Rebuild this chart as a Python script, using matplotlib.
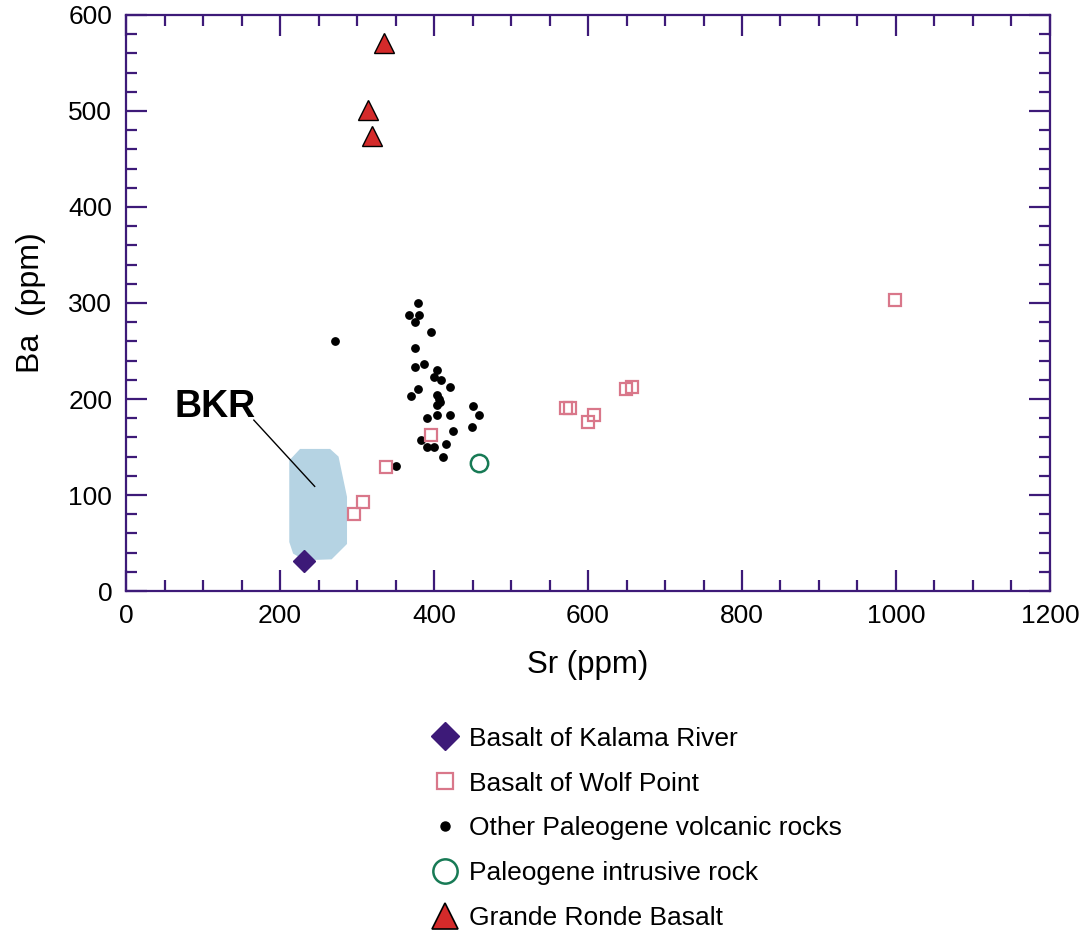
import numpy as np
from matplotlib import pyplot as plt
from matplotlib.patches import Polygon
from matplotlib.ticker import MultipleLocator
from matplotlib.lines import Line2D

plt.rcParams['font.family'] = ['Liberation Sans', 'DejaVu Sans']

# Данные: Sr и Ba (ppm)
kalama_sr = [231]
kalama_ba = [31]

wolf_sr = [296, 308, 338, 396, 571, 577, 600, 608, 649, 657, 999]
wolf_ba = [80, 93, 129, 163, 191, 191, 176, 183, 210, 213, 303]

other_sr = [271, 379, 367, 380, 375, 396, 375, 375, 387, 404, 400, 409, 421, 379,
            370, 404, 406, 404, 408, 404, 421, 391, 450, 458, 449, 425, 383, 416,
            391, 400, 412, 351]
other_ba = [260, 300, 287, 287, 280, 270, 253, 233, 236, 230, 223, 220, 213, 210,
            203, 204, 200, 194, 197, 183, 183, 180, 193, 183, 171, 167, 157, 153,
            150, 150, 140, 130]

intrusive_sr = [458]
intrusive_ba = [133]

grande_sr = [335, 314, 319]
grande_ba = [571, 501, 474]

# Поле BKR
bkr_sr = [226, 265, 276, 287, 287, 267, 232, 217, 212, 212]
bkr_ba = [148, 148, 140, 98, 49, 33, 32, 39, 51, 136]

purple = '#3d1a78'
pink = '#d9778a'
green = '#177a55'
red = '#d42a2a'

fig = plt.figure(figsize=(10.81, 9.30), dpi=100)
ax = fig.add_axes([0.1166, 0.3645, 0.8547, 0.6194])

ax.add_patch(Polygon(np.column_stack([bkr_sr, bkr_ba]), closed=True,
                     facecolor='#b5d3e3', edgecolor='none', zorder=1))

ax.plot(other_sr, other_ba, 'o', color='black', ms=5.3, zorder=3)
ax.plot(wolf_sr, wolf_ba, 's', mfc='none', mec=pink, ms=8.8, mew=1.6, zorder=4)
ax.plot(intrusive_sr, intrusive_ba, 'o', mfc='none', mec=green, ms=12.5, mew=1.8, zorder=4)
ax.plot(kalama_sr, kalama_ba, 'D', color=purple, ms=11, zorder=5)
ax.plot(grande_sr, grande_ba, '^', mfc=red, mec='black', ms=14, mew=1.0, zorder=5)

# подпись поля BKR с выноской
ax.text(168, 181, 'BKR', fontsize=27, fontweight='bold', ha='right', va='baseline')
ax.plot([166, 245], [178, 109], color='black', lw=1.0, zorder=2)

ax.set_xlim(0, 1200)
ax.set_ylim(0, 600)
ax.xaxis.set_major_locator(MultipleLocator(200))
ax.xaxis.set_minor_locator(MultipleLocator(50))
ax.yaxis.set_major_locator(MultipleLocator(100))
ax.yaxis.set_minor_locator(MultipleLocator(20))
ax.tick_params(which='both', direction='in', top=True, right=True, color=purple,
               labelsize=19, width=1.6)
ax.tick_params(which='major', length=15)
ax.tick_params(which='minor', length=8)
ax.tick_params(axis='x', which='major', pad=9)
ax.tick_params(axis='y', which='major', pad=10)
for s in ax.spines.values():
    s.set_color(purple)
    s.set_linewidth(1.6)

ax.set_xlabel('Sr (ppm)', fontsize=22.5, labelpad=16)
ax.set_ylabel('Ba  (ppm)', fontsize=23, labelpad=16)

handles = [
    Line2D([], [], ls='none', marker='D', color=purple, ms=14),
    Line2D([], [], ls='none', marker='s', mfc='none', mec=pink, ms=11.5, mew=1.6),
    Line2D([], [], ls='none', marker='o', color='black', ms=6.5),
    Line2D([], [], ls='none', marker='o', mfc='none', mec=green, ms=17.5, mew=1.8),
    Line2D([], [], ls='none', marker='^', mfc=red, mec='black', ms=19, mew=1.2),
]
labels = ['Basalt of Kalama River', 'Basalt of Wolf Point',
          'Other Paleogene volcanic rocks', 'Paleogene intrusive rock',
          'Grande Ronde Basalt']
fig.legend(handles, labels, loc='upper left', bbox_to_anchor=(0.3996, 0.2186),
           frameon=False, fontsize=19, handlelength=1.0, handletextpad=0.4,
           labelspacing=0.79, borderaxespad=0, borderpad=0)

fig.savefig('out.png', dpi=100)
